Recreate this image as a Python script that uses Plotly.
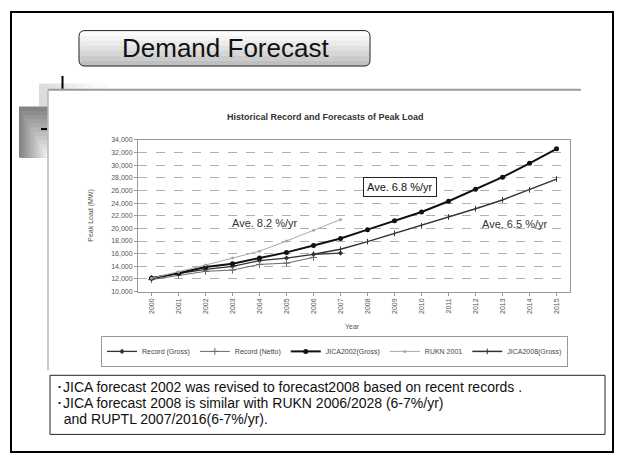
import plotly.graph_objects as go

W, H = 622, 462

# ---- data ----
years = list(range(2000, 2016))
year_labels = [str(y) for y in years]
rec_gross_years = list(range(2000, 2008))
rec_gross = [12200, 12900, 13500, 14000, 14900, 15300, 15900, 16100]
rec_netto_years = list(range(2000, 2007))
rec_netto = [11900, 12600, 13200, 13400, 14300, 14500, 15400]
jica2002_years = list(range(2000, 2016))
jica2002 = [12100, 12900, 13900, 14400, 15300, 16200, 17300, 18400,
            19800, 21200, 22600, 24300, 26200, 28100, 30300, 32600]
rukn_years = list(range(2000, 2008))
rukn = [12100, 13100, 14200, 15300, 16400, 18000, 19700, 21400]
jica2008_years = list(range(2006, 2016))
jica2008 = [15900, 16700, 17900, 19200, 20400, 21800, 23100, 24500, 26100, 27800]

y_ticks = list(range(10000, 34001, 2000))


def px(x):
    return x / W


def py(y):
    return 1 - y / H


fig = go.Figure()

fig.add_trace(go.Scatter(x=rec_gross_years, y=rec_gross, name="Record (Gross)",
                         mode="lines+markers", line=dict(color="#333333", width=1.3),
                         marker=dict(symbol="diamond", size=4, color="#333333")))
fig.add_trace(go.Scatter(x=rec_netto_years, y=rec_netto, name="Record (Netto)",
                         mode="lines+markers", line=dict(color="#6a6a6a", width=1),
                         marker=dict(symbol="cross-thin-open", size=5,
                                     line=dict(color="#6a6a6a", width=1))))
fig.add_trace(go.Scatter(x=jica2002_years, y=jica2002, name="JICA2002(Gross)",
                         mode="lines+markers", line=dict(color="#111111", width=2),
                         marker=dict(symbol="circle", size=5, color="#111111")))
fig.add_trace(go.Scatter(x=rukn_years, y=rukn, name="RUKN 2001",
                         mode="lines+markers", line=dict(color="#a8a8a8", width=1),
                         marker=dict(symbol="circle", size=3, color="#a8a8a8")))
fig.add_trace(go.Scatter(x=jica2008_years, y=jica2008, name="JICA2008(Gross)",
                         mode="lines+markers", line=dict(color="#333333", width=1.5),
                         marker=dict(symbol="line-ns-open", size=4,
                                     line=dict(color="#333333", width=1))))

shapes = []
# outer slide border
shapes.append(dict(type="rect", xref="paper", yref="paper",
                   x0=px(11), x1=px(613), y0=py(455), y1=py(8),
                   line=dict(color="black", width=2), fillcolor="rgba(0,0,0,0)", layer="below"))
# shadow decorations
for i in range(8):
    g = int(0xdc + (0xfa - 0xdc) * i / 7)
    c = f"#{g:02x}{g:02x}{g:02x}"
    shapes.append(dict(type="rect", xref="paper", yref="paper",
                       x0=px(39 + i * 7.5), x1=px(48 + (i + 1) * 7.5), y0=py(87), y1=py(81),
                       line=dict(width=0), fillcolor=c, layer="below"))
shapes.append(dict(type="rect", xref="paper", yref="paper",
                   x0=px(39), x1=px(48), y0=py(104), y1=py(81),
                   line=dict(width=0), fillcolor="#dcdcdc", layer="below"))
steps = 12
for i in range(steps):
    g = int(0x84 + (0xf0 - 0x84) * i / (steps - 1))
    c = f"#{g:02x}{g:02x}{g:02x}"
    shapes.append(dict(type="rect", xref="paper", yref="paper",
                       x0=px(19 + i * 2.4), x1=px(48), y0=py(156), y1=py(104 + i * 4.3),
                       line=dict(width=0), fillcolor=c, layer="below"))
# chart panel
shapes.append(dict(type="rect", xref="paper", yref="paper",
                   x0=px(48), x1=px(581), y0=py(363), y1=py(87),
                   line=dict(width=0), fillcolor="white", layer="below"))
shapes.append(dict(type="line", xref="paper", yref="paper",
                   x0=px(48), x1=px(581), y0=py(87), y1=py(87),
                   line=dict(color="#9a9a9a", width=2), layer="below"))
shapes.append(dict(type="line", xref="paper", yref="paper",
                   x0=px(48), x1=px(48), y0=py(87), y1=py(372),
                   line=dict(color="#b8b8b8", width=1.5), layer="below"))
# black tick marks
shapes.append(dict(type="line", xref="paper", yref="paper",
                   x0=px(62.5), x1=px(62.5), y0=py(73), y1=py(86),
                   line=dict(color="black", width=2)))
shapes.append(dict(type="line", xref="paper", yref="paper",
                   x0=px(41), x1=px(47), y0=py(127), y1=py(127),
                   line=dict(color="black", width=2)))


# title box with vertical gradient
def rounded(x0, y0, x1, y1, r):
    X0, X1 = px(x0), px(x1)
    Y0, Y1 = py(y0), py(y1)
    rx, ry = r / W, r / H
    return (f"M {X0+rx},{Y0} L {X1-rx},{Y0} Q {X1},{Y0} {X1},{Y0-ry} "
            f"L {X1},{Y1+ry} Q {X1},{Y1} {X1-rx},{Y1} L {X0+rx},{Y1} "
            f"Q {X0},{Y1} {X0},{Y1+ry} L {X0},{Y0-ry} Q {X0},{Y0} {X0+rx},{Y0} Z")


grad = ["#fcfcfc", "#f4f4f4", "#ebebeb", "#e1e1e1", "#d6d6d6", "#cbcbcb", "#c0c0c0"]
n = len(grad)
top, bot = 27, 63
for i, c in enumerate(grad):
    y0 = top + (bot - top) * i / n
    shapes.append(dict(type="path", xref="paper", yref="paper",
                       path=rounded(79, y0, 370, bot, 6 if i == 0 else 5), line=dict(width=0),
                       fillcolor=c, layer="below"))
shapes.append(dict(type="path", xref="paper", yref="paper",
                   path=rounded(79, top, 370, bot, 6),
                   line=dict(color="#222222", width=1), fillcolor="rgba(0,0,0,0)"))
# text box
shapes.append(dict(type="rect", xref="paper", yref="paper",
                   x0=px(50), x1=px(605), y0=py(437), y1=py(377),
                   line=dict(color="#222222", width=1), fillcolor="white"))

FONT = "Liberation Sans, Arial, sans-serif"
ann = []


def add(x, y, text, size, color, xa="center", ya="middle", **kw):
    ann.append(dict(x=px(x), y=py(y), xref="paper", yref="paper", text=text,
                    xanchor=xa, yanchor=ya, showarrow=False,
                    font=dict(family=FONT, size=size, color=color), **kw))


add(225, 45, "Demand Forecast", 26, "#111111")
add(325, 115, "<b>Historical Record and Forecasts of Peak Load</b>", 9, "#333333")
add(91, 215, "Peak Load (MW)", 7, "#555555", textangle=-90)
add(352, 327, "Year", 7, "#555555")
add(265, 222, "Ave. 8.2 %/yr", 11, "#333333")
add(400, 186, "Ave. 6.8 %/yr", 11, "#111111", bgcolor="white", bordercolor="#222222",
    borderwidth=1, borderpad=3)
add(515, 223, "Ave. 6.5 %/yr", 11, "#333333")
notes = ["･JICA forecast 2002 was revised to forecast2008 based on recent records .",
         "･JICA forecast 2008 is similar with RUKN 2006/2028 (6-7%/yr)",
         "  and RUPTL 2007/2016(6-7%/yr)."]
for i, t in enumerate(notes):
    add(54, 389 + i * 16, t, 14, "#111111", xa="left")

fig.update_layout(
    width=W, height=H, margin=dict(l=0, r=0, t=0, b=0),
    paper_bgcolor="white", plot_bgcolor="white",
    shapes=shapes, annotations=ann,
    font=dict(family=FONT, size=7, color="#555555"),
    xaxis=dict(domain=[px(138), px(570)], range=[1999.5, 2015.5],
               tickvals=years, ticktext=year_labels, tickangle=-90,
               showgrid=False, zeroline=False, showline=True, linecolor="#999999",
               mirror=True, ticks="outside", ticklen=3, tickcolor="#999999",
               tickfont=dict(size=7, color="#555555")),
    yaxis=dict(domain=[py(292), py(138)], range=[10000, 34000],
               tickvals=y_ticks, tickformat=",", showgrid=True, gridcolor="#b0b0b0",
               griddash="dash", gridwidth=1, zeroline=False, showline=True,
               linecolor="#999999", mirror=True, ticks="outside", ticklen=3,
               tickcolor="#999999", tickfont=dict(size=7, color="#555555")),
    legend=dict(orientation="h", x=px(101), y=py(337), xanchor="left", yanchor="top",
                bordercolor="#999999", borderwidth=1, bgcolor="white",
                font=dict(size=7, color="#444444"), itemwidth=30),
)

fig.write_html("out.html", config={"displayModeBar": False},
               post_script="document.body.style.margin='0';document.body.style.padding='0';")
